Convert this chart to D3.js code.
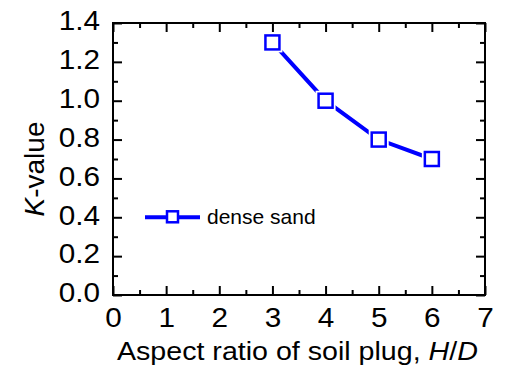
<!DOCTYPE html>
<html>
<head>
<meta charset="utf-8">
<script src="https://cdn.jsdelivr.net/npm/d3@7"></script>
<style>
  html, body { margin: 0; padding: 0; background: #fff; }
  svg { display: block; font-family: "Liberation Sans", Arial, sans-serif; }
</style>
</head>
<body>
<svg id="chart" width="506" height="367"></svg>
<script>
const ratios = [3, 4, 5, 6];
const kValues = [1.3, 1.0, 0.8, 0.7];
const seriesName = "dense sand";
const xTicks = [0, 1, 2, 3, 4, 5, 6, 7];
const yTicks = [0.0, 0.2, 0.4, 0.6, 0.8, 1.0, 1.2, 1.4];
const xMinor = [0.5, 1.5, 2.5, 3.5, 4.5, 5.5, 6.5];
const yMinor = [0.1, 0.3, 0.5, 0.7, 0.9, 1.1, 1.3];

const svg = d3.select("#chart");
const L = 113, R = 485, T = 23, B = 295;
const x = d3.scaleLinear().domain([0, 7]).range([L, R]);
const y = d3.scaleLinear().domain([0, 1.4]).range([B, T]);
const blue = "#0000ff";
const major = 9, minor = 5;
const sx = 1.1;

function styleAxis(g) {
  g.select(".domain").remove();
  g.selectAll("line").attr("stroke", "#000").attr("stroke-width", 2);
}
const fmtY = d3.format(".1f");

svg.append("g").attr("transform", `translate(0,${B})`)
  .call(d3.axisBottom(x).tickValues(xTicks).tickSize(-major).tickFormat(d3.format("d")))
  .call(styleAxis)
  .call(g => g.selectAll("text").attr("font-size", 27).attr("fill", "#000")
    .attr("font-family", "Liberation Sans, Arial, sans-serif")
    .attr("y", 0).attr("dy", "0.71em").attr("transform", `translate(0,13) scale(${sx},1)`));
svg.append("g").attr("transform", `translate(0,${B})`)
  .call(d3.axisBottom(x).tickValues(xMinor).tickSize(-minor).tickFormat(""))
  .call(styleAxis);
svg.append("g").attr("transform", `translate(0,${T})`)
  .call(d3.axisTop(x).tickValues(xTicks).tickSize(-major).tickFormat(""))
  .call(styleAxis);
svg.append("g").attr("transform", `translate(0,${T})`)
  .call(d3.axisTop(x).tickValues(xMinor).tickSize(-minor).tickFormat(""))
  .call(styleAxis);

svg.append("g").attr("transform", `translate(${L},0)`)
  .call(d3.axisLeft(y).tickValues(yTicks).tickSize(-major).tickFormat(fmtY))
  .call(styleAxis)
  .call(g => g.selectAll("text").attr("font-size", 27).attr("fill", "#000")
    .attr("font-family", "Liberation Sans, Arial, sans-serif")
    .attr("x", 0).attr("dy", "0.25em").attr("transform", `translate(-13,0) scale(${sx},1)`));
svg.append("g").attr("transform", `translate(${L},0)`)
  .call(d3.axisLeft(y).tickValues(yMinor).tickSize(-minor).tickFormat(""))
  .call(styleAxis);
svg.append("g").attr("transform", `translate(${R},0)`)
  .call(d3.axisRight(y).tickValues(yTicks).tickSize(-major).tickFormat(""))
  .call(styleAxis);
svg.append("g").attr("transform", `translate(${R},0)`)
  .call(d3.axisRight(y).tickValues(yMinor).tickSize(-minor).tickFormat(""))
  .call(styleAxis);

// frame
svg.append("rect").attr("x", L).attr("y", T).attr("width", R - L).attr("height", B - T)
  .attr("fill", "none").attr("stroke", "#000").attr("stroke-width", 2);

// data
const data = ratios.map((r, i) => ({ r, k: kValues[i] }));
svg.append("path").datum(data)
  .attr("fill", "none").attr("stroke", blue).attr("stroke-width", 4)
  .attr("d", d3.line().x(d => x(d.r)).y(d => y(d.k)));
const ms = 14;
svg.selectAll(".halo").data(data).join("rect")
  .attr("x", d => x(d.r) - ms / 2 - 3).attr("y", d => y(d.k) - ms / 2 - 3)
  .attr("width", ms + 6).attr("height", ms + 6).attr("fill", "#fff");
svg.selectAll(".mk").data(data).join("rect")
  .attr("x", d => x(d.r) - ms / 2).attr("y", d => y(d.k) - ms / 2)
  .attr("width", ms).attr("height", ms)
  .attr("fill", "#fff").attr("stroke", blue).attr("stroke-width", 2.5);

// legend
const ly = y(0.4);
svg.append("line").attr("x1", 145).attr("x2", 200).attr("y1", ly).attr("y2", ly)
  .attr("stroke", blue).attr("stroke-width", 4);
svg.append("rect").attr("x", 167).attr("y", ly - 6).attr("width", 11).attr("height", 11)
  .attr("fill", "#fff").attr("stroke", blue).attr("stroke-width", 2.5);
svg.append("text").attr("x", 207).attr("y", ly + 7).attr("font-size", 21).attr("fill", "#000")
  .text(seriesName);

// axis titles
const xt = svg.append("text").attr("transform", `translate(117,360) scale(${sx},1)`)
  .attr("font-size", 26).attr("fill", "#000");
xt.append("tspan").text("Aspect ratio of soil plug, ");
xt.append("tspan").attr("font-style", "italic").text("H");
xt.append("tspan").text("/");
xt.append("tspan").attr("font-style", "italic").text("D");

const yt = svg.append("text").attr("transform", `translate(44,169) rotate(-90)`).attr("text-anchor", "middle")
  .attr("font-size", 28).attr("fill", "#000");
yt.append("tspan").attr("font-style", "italic").text("K");
yt.append("tspan").text("-value");
</script>
</body>
</html>
